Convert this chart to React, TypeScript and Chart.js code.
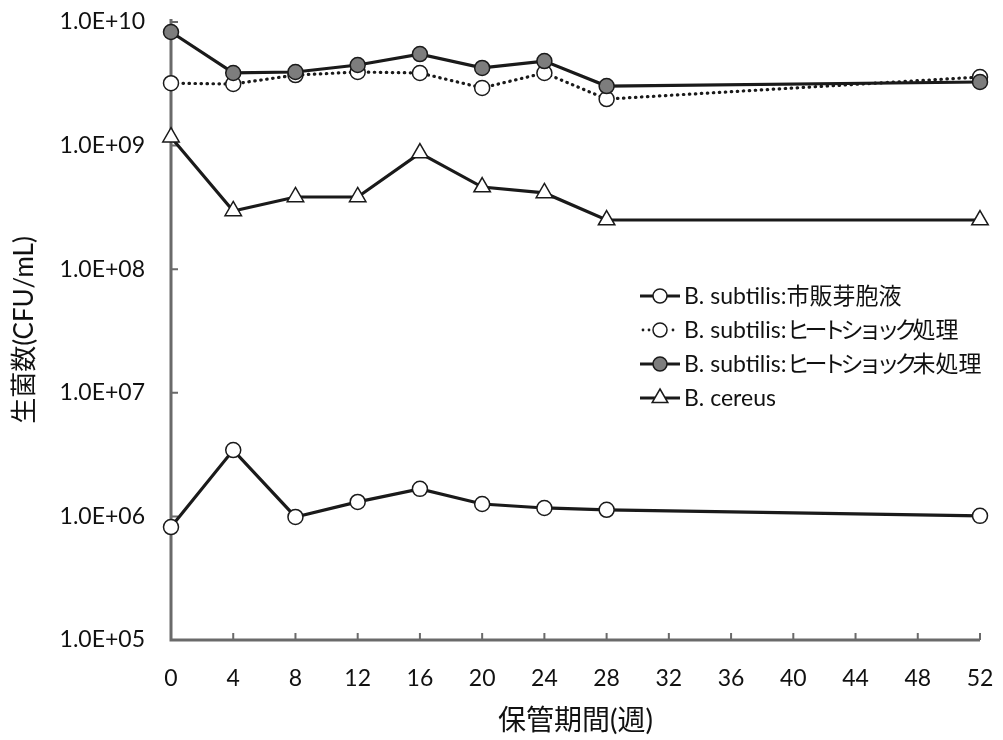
import React, { useEffect, useRef } from "react";
import { Chart, registerables } from "chart.js";

Chart.register(...registerables);

const weeks = [0, 4, 8, 12, 16, 20, 24, 28, 52];
const commercial = [8.2e5, 3.44e6, 9.9e5, 1.31e6, 1.67e6, 1.26e6, 1.17e6, 1.13e6, 1.01e6];
const heatShock = [3.2e9, 3.15e9, 3.72e9, 3.94e9, 3.87e9, 2.93e9, 3.87e9, 2.38e9, 3.59e9];
const noHeatShock = [8.3e9, 3.87e9, 3.94e9, 4.49e9, 5.5e9, 4.25e9, 4.83e9, 3.03e9, 3.27e9];
const cereus = [1.17e9, 2.96e8, 3.84e8, 3.84e8, 8.7e8, 4.62e8, 4.14e8, 2.5e8, 2.5e8];

const seriesLabels = [
  "B. subtilis:市販芽胞液",
  "B. subtilis:ヒートショック処理",
  "B. subtilis:ヒートショック未処理",
  "B. cereus",
];
const yTickValues = [1e5, 1e6, 1e7, 1e8, 1e9, 1e10];
const xTitle = "保管期間(週)";
const yTitle = "生菌数(CFU/mL)";

const FONT = "Lato, 'Noto Sans CJK JP', sans-serif";
const LINE = "#1a1a1a";
const AXIS = "#6a6a6a";
const GRAYFILL = "#7d7d7d";

function pts(vals: number[]) {
  return weeks.map((w, i) => ({ x: w, y: vals[i] }));
}

function drawMarker(ctx: CanvasRenderingContext2D, kind: string, x: number, y: number) {
  ctx.save();
  ctx.lineWidth = 1.5;
  ctx.strokeStyle = LINE;
  ctx.fillStyle = kind === "filled" ? GRAYFILL : "#ffffff";
  ctx.beginPath();
  if (kind === "triangle") {
    const r = 9;
    ctx.moveTo(x, y - r);
    ctx.lineTo(x + r * 0.87, y + r * 0.5);
    ctx.lineTo(x - r * 0.87, y + r * 0.5);
    ctx.closePath();
  } else {
    ctx.arc(x, y, 7, 0, Math.PI * 2);
  }
  ctx.fill();
  ctx.stroke();
  ctx.restore();
}

// draw text with katakana runs tightened (proportional kana look)
function drawLegendText(ctx: any, text: string, x: number, y: number) {
  const runs = text.match(/[\u30A0-\u30FF]+|[^\u30A0-\u30FF]+/g) || [];
  let cx = x;
  for (const run of runs) {
    const kana = /[\u30A0-\u30FF]/.test(run);
    ctx.letterSpacing = kana ? "-5px" : "0px";
    ctx.fillText(run, cx, y);
    cx += ctx.measureText(run).width;
  }
  ctx.letterSpacing = "0px";
}

const axesPlugin = {
  id: "customAxes",
  beforeDatasetsDraw(chart: any) {
    const { ctx, chartArea, scales } = chart;
    const { left, right, top, bottom } = chartArea;
    ctx.save();
    ctx.strokeStyle = AXIS;
    ctx.lineWidth = 3;
    ctx.beginPath();
    ctx.moveTo(left, top - 3);
    ctx.lineTo(left, bottom);
    ctx.lineTo(right, bottom);
    ctx.stroke();
    ctx.lineWidth = 2;
    ctx.beginPath();
    for (let v = 4; v <= 52; v += 4) {
      const px = scales.x.getPixelForValue(v);
      ctx.moveTo(px, bottom);
      ctx.lineTo(px, bottom - 7);
    }
    for (const v of yTickValues) {
      if (v === 1e5) continue;
      const py = scales.y.getPixelForValue(v);
      ctx.moveTo(left, py);
      ctx.lineTo(left + 7, py);
    }
    ctx.stroke();
    ctx.restore();
  },
  afterDraw(chart: any) {
    const { ctx, chartArea } = chart;
    ctx.save();
    ctx.fillStyle = "#111";
    ctx.textAlign = "center";
    ctx.textBaseline = "middle";
    ctx.font = `28px ${FONT}`;
    ctx.fillText(xTitle, (chartArea.left + chartArea.right) / 2, 721);
    ctx.font = `26px ${FONT}`;
    ctx.save();
    ctx.translate(25, 330);
    ctx.rotate(-Math.PI / 2);
    ctx.fillText(yTitle, 0, 0);
    ctx.restore();

    // legend
    const rows = [296, 330, 364, 398];
    const kinds = ["open", "open", "filled", "triangle"];
    const x0 = 640, x1 = 680, xm = 660, xt = 684;
    ctx.font = `23px ${FONT}`;
    ctx.textAlign = "left";
    rows.forEach((ry, i) => {
      ctx.strokeStyle = LINE;
      ctx.fillStyle = LINE;
      if (i === 1) {
        for (const dx of [643, 649, 673]) {
          ctx.beginPath();
          ctx.arc(dx, ry, 1.4, 0, Math.PI * 2);
          ctx.fill();
        }
      } else {
        ctx.lineWidth = 3;
        ctx.beginPath();
        ctx.moveTo(x0, ry);
        ctx.lineTo(x1, ry);
        ctx.stroke();
      }
      drawMarker(ctx, kinds[i], xm, ry);
      ctx.fillStyle = "#111";
      drawLegendText(ctx, seriesLabels[i], xt, ry + 1);
    });
    ctx.restore();
  },
};

export default function App() {
  const ref = useRef<HTMLCanvasElement | null>(null);
  useEffect(() => {
    if (!ref.current) return;
    const common = {
      borderColor: LINE,
      borderWidth: 3.2,
      pointBorderColor: LINE,
      pointBorderWidth: 1.5,
      pointRadius: 7.5,
      pointHoverRadius: 7.5,
      tension: 0,
      clip: false as any,
    };
    const chart = new Chart(ref.current, {
      type: "line",
      data: {
        datasets: [
          {
            ...common,
            label: seriesLabels[0],
            data: pts(commercial),
            pointBackgroundColor: "#ffffff",
            pointStyle: "circle",
          },
          {
            ...common,
            label: seriesLabels[2],
            data: pts(noHeatShock),
            pointBackgroundColor: GRAYFILL,
            pointStyle: "circle",
          },
          {
            ...common,
            label: seriesLabels[1],
            data: pts(heatShock),
            pointBackgroundColor: "#ffffff",
            pointStyle: "circle",
            borderDash: [0.5, 5.5],
            borderCapStyle: "round",
            borderWidth: 3.2,
          },
          {
            ...common,
            label: seriesLabels[3],
            data: pts(cereus),
            pointBackgroundColor: "#ffffff",
            pointStyle: "triangle",
            pointRadius: 9.5,
            pointHoverRadius: 9.5,
          },
        ],
      },
      options: {
        animation: false,
        responsive: false,
        maintainAspectRatio: false,
        layout: { padding: { top: 22, right: 23, left: 0, bottom: 0 } },
        plugins: { legend: { display: false }, tooltip: { enabled: false } },
        scales: {
          x: {
            type: "linear",
            min: 0,
            max: 52,
            grid: { display: false, drawTicks: false },
            border: { display: false },
            ticks: {
              stepSize: 4,
              padding: 25,
              color: "#111",
              font: { family: FONT, size: 23 },
              maxRotation: 0,
            },
            afterFit(scale: any) {
              scale.height = 100;
              scale.paddingLeft = 0;
              scale.paddingRight = 0;
            },
          },
          y: {
            type: "logarithmic",
            min: 1e5,
            max: 1e10,
            grid: { display: false, drawTicks: false },
            border: { display: false },
            afterBuildTicks(scale: any) {
              scale.ticks = yTickValues.map((v) => ({ value: v, major: true }));
            },
            ticks: {
              padding: 26,
              color: "#111",
              font: { family: FONT, size: 23 },
              callback: (v: any) => {
                const e = Math.round(Math.log10(Number(v)));
                return "1.0E+" + String(e).padStart(2, "0");
              },
            },
            afterFit(scale: any) {
              scale.width = 171;
              scale.paddingTop = 0;
              scale.paddingBottom = 0;
            },
          },
        },
      },
      plugins: [axesPlugin],
    });
    return () => chart.destroy();
  }, []);
  return (
    <div style={{ position: "absolute", left: 0, top: 0, width: 1003, height: 740, background: "#fff" }}>
      <canvas ref={ref} width={1003} height={740} style={{ width: 1003, height: 740 }} />
    </div>
  );
}
